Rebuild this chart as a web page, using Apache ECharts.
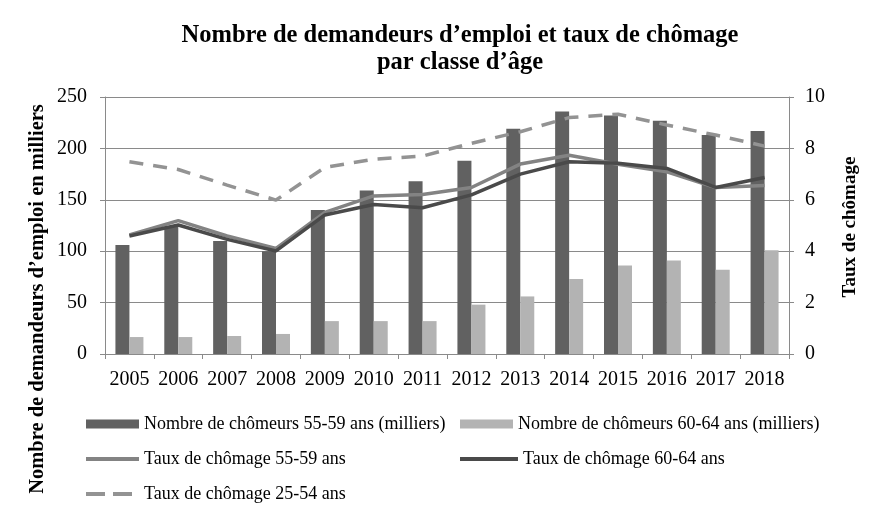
<!DOCTYPE html>
<html>
<head>
<meta charset="utf-8">
<script src="https://cdn.jsdelivr.net/npm/echarts@6/dist/echarts.min.js"></script>
<style>html,body{margin:0;padding:0;background:#fff}#c{width:884px;height:515px}</style>
</head>
<body>
<div id="c"></div>
<script>
const years = ['2005','2006','2007','2008','2009','2010','2011','2012','2013','2014','2015','2016','2017','2018'];
const chom5559 = [106,124,110,100,140,159,168,188,219,236,232,227,213,217];
const chom6064 = [16.5,16.5,17.5,19.5,32,32,32,48,56,73,86,91,82,101];
const taux5559 = [4.63,5.19,4.59,4.11,5.51,6.15,6.21,6.48,7.39,7.73,7.38,7.09,6.48,6.56];
const taux6064 = [4.59,5.02,4.46,4.01,5.41,5.82,5.69,6.19,7.0,7.48,7.42,7.22,6.48,6.87];
const taux2554 = [7.48,7.18,6.57,5.99,7.26,7.58,7.70,8.2,8.65,9.2,9.33,8.91,8.52,8.09];
const leftTicks = [0,50,100,150,200,250];
const rightTicks = [0,2,4,6,8,10];

const names = ['Nombre de chômeurs 55-59 ans (milliers)','Nombre de chômeurs 60-64 ans (milliers)','Taux de chômage 55-59 ans','Taux de chômage 60-64 ans','Taux de chômage 25-54 ans'];
const FONT = '"Liberation Serif", "DejaVu Serif", serif';
const C = {bar1:'#616161', bar2:'#b3b3b3', l1:'#838383', l2:'#4a4a4a', l3:'#939393', grid:'#8a8a8a'};

const chart = echarts.init(document.getElementById('c'));
const legendBase = {orient:'horizontal', textStyle:{fontFamily:FONT,fontSize:18,color:'#000'}, selectedMode:false, itemGap:0};
const dashIcon = 'path://M0,0h19v4h-19z M27,0h19v4h-19z';
chart.setOption({
  animation:false,
  textStyle:{fontFamily:FONT},
  title:{text:'Nombre de demandeurs d\u2019emploi et taux de chômage\npar classe d\u2019âge', left:455, textAlign:'center', top:17,
    textStyle:{fontFamily:FONT,fontSize:24.5,fontWeight:'bold',color:'#000',lineHeight:27}},
  grid:{left:105, right:95, top:97, bottom:161},
  legend:[
    Object.assign({}, legendBase, {data:[{name:names[0],icon:'rect'}], left:81, top:410, itemWidth:53, itemHeight:9}),
    Object.assign({}, legendBase, {data:[{name:names[1],icon:'rect'}], left:455, top:410, itemWidth:53, itemHeight:9}),
    Object.assign({}, legendBase, {data:[{name:names[2],icon:'rect'}], left:81, top:445, itemWidth:53, itemHeight:4}),
    Object.assign({}, legendBase, {data:[{name:names[3],icon:'rect'}], left:455, top:445, itemWidth:58, itemHeight:4}),
    Object.assign({}, legendBase, {data:[{name:names[4],icon:dashIcon}], left:81, top:480, itemWidth:46, itemHeight:4,
      textStyle:{fontFamily:FONT,fontSize:18,color:'#000',padding:[0,0,0,7]}})
  ],
  xAxis:{type:'category', data:years,
    axisLine:{lineStyle:{color:C.grid,width:1}},
    axisTick:{show:true,alignWithLabel:false,length:5,lineStyle:{color:C.grid}},
    axisLabel:{color:'#000',fontSize:20,fontFamily:FONT,margin:16,interval:0}},
  yAxis:[
    {type:'value', min:0, max:250, interval:50, position:'left',
      axisLine:{show:true,lineStyle:{color:C.grid}},
      axisTick:{show:true,length:5,lineStyle:{color:C.grid}},
      axisLabel:{color:'#000',fontSize:20,fontFamily:FONT,margin:18,
        formatter:v=>leftTicks.includes(v)?String(v):''},
      splitLine:{show:true,lineStyle:{color:C.grid,width:1}}},
    {type:'value', min:0, max:10, interval:2, position:'right',
      axisLine:{show:true,lineStyle:{color:C.grid}},
      axisTick:{show:true,length:5,lineStyle:{color:C.grid}},
      axisLabel:{color:'#000',fontSize:20,fontFamily:FONT,margin:16,
        formatter:v=>rightTicks.includes(v)?String(v):''},
      splitLine:{show:false}}
  ],
  graphic:[
    {type:'text', x:38, y:299, rotation:Math.PI/2, style:{text:'Nombre de demandeurs d\u2019emploi en milliers', fontFamily:FONT, fontSize:20.5, fontWeight:'bold', fill:'#000', align:'center', verticalAlign:'middle'}},
    {type:'text', x:850, y:227, rotation:Math.PI/2, style:{text:'Taux de chômage', fontFamily:FONT, fontSize:19, fontWeight:'bold', fill:'#000', align:'center', verticalAlign:'middle'}}
  ],
  series:[
    {name:names[0], type:'bar', data:chom5559, yAxisIndex:0, barWidth:14, barGap:'0%', itemStyle:{color:C.bar1}},
    {name:names[1], type:'bar', data:chom6064, yAxisIndex:0, barWidth:14, barGap:'0%', itemStyle:{color:C.bar2}},
    {name:names[2], type:'line', data:taux5559, yAxisIndex:1, symbol:'none', lineStyle:{color:C.l1,width:3.5}, itemStyle:{color:C.l1}},
    {name:names[3], type:'line', data:taux6064, yAxisIndex:1, symbol:'none', lineStyle:{color:C.l2,width:3.5}, itemStyle:{color:C.l2}},
    {name:names[4], type:'line', data:taux2554, yAxisIndex:1, symbol:'none', lineStyle:{color:C.l3,width:3.5,type:[14,10]}, itemStyle:{color:C.l3}}
  ]
});
</script>
</body>
</html>
